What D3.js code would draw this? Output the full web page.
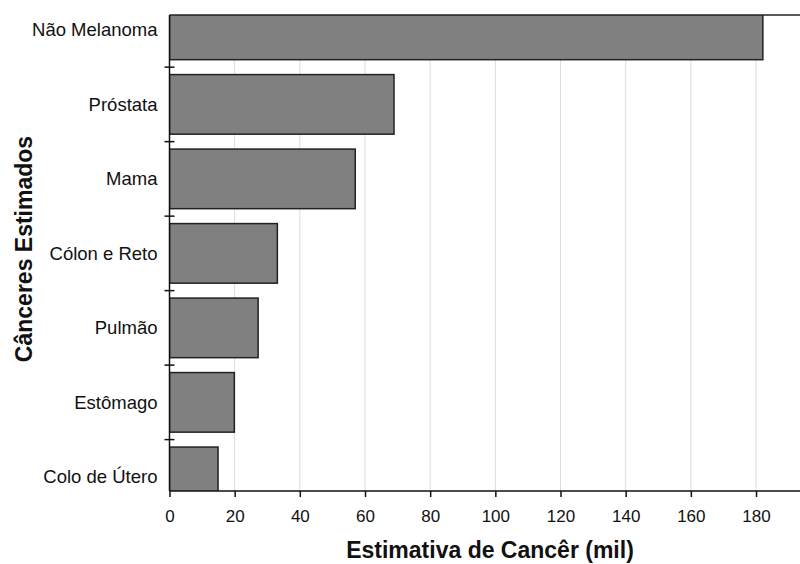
<!DOCTYPE html>
<html>
<head>
<meta charset="utf-8">
<script src="https://cdn.jsdelivr.net/npm/d3@7"></script>
<style>
  html, body { margin: 0; padding: 0; background: #fff; }
  svg { display: block; font-family: "Liberation Sans", Arial, sans-serif; }
</style>
</head>
<body>
<svg id="chart" width="800" height="564"></svg>
<script>
const categories = ["Não Melanoma", "Próstata", "Mama", "Cólon e Reto", "Pulmão", "Estômago", "Colo de Útero"];
const values = [182.1, 68.9, 57.0, 33.1, 27.2, 19.9, 14.9];
const xTicks = [0, 20, 40, 60, 80, 100, 120, 140, 160, 180];
const xTitle = "Estimativa de Cancêr (mil)";
const yTitle = "Cânceres Estimados";

(function () {
const svg = d3.select("#chart");
const pL = 169.5, pR = 800, pT = 15, pB = 491;

const x = d3.scaleLinear().domain([0, 193.5]).range([pL, pR]);
const y = d3.scaleLinear().domain([-0.2, 6.19]).range([pT, pB]);

svg.append("defs").append("clipPath").attr("id", "plotclip")
  .append("rect").attr("x", pL).attr("y", pT).attr("width", pR - pL).attr("height", pB - pT);

// grid
svg.append("g").selectAll("line").data(xTicks.filter(d => d > 0)).join("line")
  .attr("x1", d => x(d)).attr("x2", d => x(d))
  .attr("y1", pT).attr("y2", pB)
  .attr("stroke", "#dcdcdc").attr("stroke-width", 1);

// bars
svg.append("g").attr("clip-path", "url(#plotclip)")
  .selectAll("rect").data(values).join("rect")
  .attr("x", x(0))
  .attr("y", (d, i) => y(i - 0.4))
  .attr("width", d => x(d) - x(0))
  .attr("height", y(0.4) - y(-0.4))
  .attr("fill", "#808080")
  .attr("stroke", "#222")
  .attr("stroke-width", 1.5);

// top frame line
svg.append("line").attr("x1", pL).attr("x2", pR).attr("y1", pT).attr("y2", pT)
  .attr("stroke", "#222").attr("stroke-width", 1.5);

// x axis
const xAxis = svg.append("g").attr("transform", `translate(0,${pB})`)
  .call(d3.axisBottom(x).tickValues(xTicks).tickSize(6).tickSizeOuter(0).tickPadding(13));
xAxis.select(".domain").attr("stroke", "#111").attr("stroke-width", 1.5).attr("d", `M${pL},0H${pR}`);
xAxis.selectAll(".tick line").attr("stroke", "#111").attr("stroke-width", 1.5);
xAxis.selectAll(".tick text").attr("font-size", 17).attr("fill", "#111")
  .attr("font-family", "'Liberation Sans', Arial, sans-serif");

// y axis
const yAxis = svg.append("g").attr("transform", `translate(${pL},0)`)
  .call(d3.axisLeft(y).tickValues(d3.range(categories.length)).tickFormat(i => categories[i])
    .tickSize(0).tickPadding(12));
yAxis.select(".domain").attr("stroke", "#111").attr("stroke-width", 1.5).attr("d", `M0,${pT}V${pB}`);
yAxis.selectAll(".tick text").attr("font-size", 18.5).attr("fill", "#111")
  .attr("font-family", "'Liberation Sans', Arial, sans-serif");

// boundary ticks crossing axis
svg.append("g").selectAll("line").data(d3.range(categories.length - 1)).join("line")
  .attr("x1", pL - 5).attr("x2", pL + 5)
  .attr("y1", d => y(d + 0.5)).attr("y2", d => y(d + 0.5))
  .attr("stroke", "#111").attr("stroke-width", 1.5);

// titles
svg.append("text").attr("x", 490).attr("y", 558)
  .attr("text-anchor", "middle").attr("font-weight", "bold").attr("font-size", 23)
  .attr("fill", "#111").text(xTitle);

svg.append("text").attr("transform", `translate(32,249) rotate(-90)`)
  .attr("text-anchor", "middle").attr("font-weight", "bold").attr("font-size", 23)
  .attr("fill", "#111").text(yTitle);
})();
</script>
</body>
</html>
